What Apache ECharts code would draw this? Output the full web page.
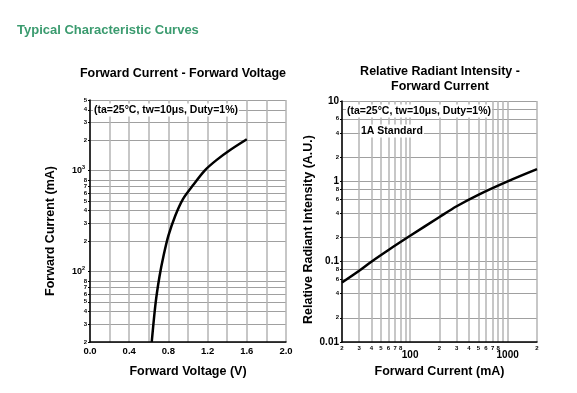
<!DOCTYPE html>
<html><head><meta charset="utf-8">
<script src="https://cdn.jsdelivr.net/npm/echarts@6/dist/echarts.min.js"></script>
<style>html,body{margin:0;padding:0;background:#fff}#c{width:577px;height:393px}</style>
</head><body><div id="c"></div>
<script>
// Forward Current vs Forward Voltage
const vfVoltage = [0.63, 0.67, 0.71, 0.75, 0.80, 0.87, 0.95, 1.05, 1.17, 1.29, 1.43, 1.6];
const vfCurrent = [20, 49, 90, 142, 226, 357, 525, 713, 1000, 1268, 1596, 2040];
// Relative Radiant Intensity vs Forward Current
const riCurrent = [20, 30, 40, 60, 100, 200, 300, 500, 1000, 2000];
const riIntensity = [0.055, 0.077, 0.1, 0.14, 0.21, 0.36, 0.49, 0.68, 1.0, 1.42];

const vfXTicks = [0, 0.2, 0.4, 0.6, 0.8, 1.0, 1.2, 1.4, 1.6, 1.8, 2.0];
const vfXLabels = [0, 0.4, 0.8, 1.2, 1.6, 2.0];
const vfYTicks = [20,30,40,50,60,70,80,90,100,200,300,400,500,600,700,800,900,1000,2000,3000,4000,5000];
const vfYLabels = [20,30,40,50,60,70,80,100,200,300,400,500,600,700,800,1000,2000,3000,4000,5000];
const riXTicks = [20,30,40,50,60,70,80,90,100,200,300,400,500,600,700,800,900,1000,2000];
const riXLabels = [20,30,40,50,60,70,80,100,200,300,400,500,600,700,800,1000,2000];
const riYTicks = [0.01,0.02,0.03,0.04,0.05,0.06,0.07,0.08,0.09,0.1,0.2,0.3,0.4,0.5,0.6,0.7,0.8,0.9,1,2,3,4,5,6,7,8,9,10];
const riYLabels = [0.01,0.02,0.04,0.06,0.08,0.1,0.2,0.4,0.6,0.8,1,2,4,6,8,10];

const FONT = '"Liberation Sans", Arial, sans-serif';
// keep edge values just inside the log extent so float rounding does not drop them
const inside = (arr, lo, hi) => arr.map(v => v >= hi ? hi * 0.99999 : (v <= lo ? lo * 1.00001 : v));
function lead(v){ const p = Math.floor(Math.log10(v) + 1e-6); return Math.round(v / Math.pow(10, p)); }
const near = (a, b) => Math.abs(a - b) / b < 1e-3;
const gridV = {show:true, lineStyle:{color:'#b4b4b4', width:1.5}};
const gridH = {show:true, lineStyle:{color:'#a0a0a0', width:1}};
const axLine = {show:true, lineStyle:{color:'#000', width:1.5}};
const nameStyle = {fontFamily:FONT, fontWeight:'bold', fontSize:12.5, color:'#000'};
const digit = {fontFamily:FONT, fontWeight:'bold', fontSize:6, color:'#000', lineHeight:6};

const chart = echarts.init(document.getElementById('c'), null, {renderer:'canvas'});
chart.setOption({
  animation:false,
  backgroundColor:'#fff',
  grid:[
    {left:90, top:100, width:196, height:242},
    {left:342, top:101, width:195, height:241}
  ],
  xAxis:[
    {type:'value', gridIndex:0, min:0, max:2,
     name:'Forward Voltage (V)', nameLocation:'middle', nameGap:23, nameTextStyle:nameStyle,
     axisLine:axLine, axisTick:{show:false, customValues:vfXTicks},
     axisLabel:{customValues:vfXLabels, showMinLabel:true, showMaxLabel:true, hideOverlap:false,
       formatter:v=>v.toFixed(1), fontFamily:FONT, fontWeight:'bold', fontSize:9.5, color:'#000', margin:4},
     splitLine:gridV},
    {type:'log', gridIndex:1, min:20, max:2000, logBase:10,
     name:'Forward Current (mA)', nameLocation:'middle', nameGap:23, nameTextStyle:nameStyle,
     axisLine:axLine, axisTick:{show:false, customValues:inside(riXTicks,20,2000)},
     axisLabel:{customValues:inside(riXLabels,20,2000), showMinLabel:true, showMaxLabel:true, hideOverlap:false, margin:3,
       formatter:v=> (near(v,100)||near(v,1000)) ? '{m|'+Math.round(v)+'}' : '{d|'+lead(v)+'}',
       rich:{d:digit, m:{fontFamily:FONT, fontWeight:'bold', fontSize:10, color:'#000', padding:[5,0,0,0]}}},
     splitLine:gridV}
  ],
  yAxis:[
    {type:'log', gridIndex:0, min:20, max:5000, logBase:10,
     name:'Forward Current (mA)', nameLocation:'middle', nameGap:33,
     nameTextStyle:Object.assign({padding:[0,20,0,0]}, nameStyle),
     axisLine:axLine, axisTick:{show:true, length:2, customValues:inside(vfYLabels,20,5000), lineStyle:{color:'#000'}},
     axisLabel:{customValues:inside(vfYLabels,20,5000), showMinLabel:true, showMaxLabel:true, hideOverlap:false, margin:3,
       formatter:v=> near(v,100) ? '{b|10}{s|2}' : near(v,1000) ? '{b|10}{s|3}' : '{d|'+lead(v)+'}',
       rich:{d:digit, b:{fontFamily:FONT, fontWeight:'bold', fontSize:9, color:'#000'}, s:{fontFamily:FONT, fontWeight:'bold', fontSize:5.5, color:'#000', padding:[0,2,6,0]}}},
     splitLine:gridH},
    {type:'log', gridIndex:1, min:0.01, max:10, logBase:10,
     name:'Relative Radiant Intensity (A.U.)', nameLocation:'middle', nameGap:27,
     nameTextStyle:Object.assign({padding:[0,16,0,0]}, nameStyle),
     axisLine:axLine, axisTick:{show:true, length:2, customValues:inside(riYLabels,0.01,10), lineStyle:{color:'#000'}},
     axisLabel:{customValues:inside(riYLabels,0.01,10), showMinLabel:true, showMaxLabel:true, hideOverlap:false, margin:3,
       formatter:v=> near(v,10) ? '{t|10}' : near(v,1) ? '{b|1}' : near(v,0.1) ? '{b|0.1}' : near(v,0.01) ? '{b|0.01}' : '{d|'+lead(v)+'}',
       rich:{d:digit, b:{fontFamily:FONT, fontWeight:'bold', fontSize:10, color:'#000'},
             t:{fontFamily:FONT, fontWeight:'bold', fontSize:10, color:'#000', lineHeight:6}}},
     splitLine:gridH}
  ],
  series:[
    {type:'line', xAxisIndex:0, yAxisIndex:0, showSymbol:false, smooth:0.3,
     lineStyle:{color:'#000', width:2.5}, z:5,
     data:vfVoltage.map((v,i)=>[v, vfCurrent[i]])},
    {type:'line', xAxisIndex:1, yAxisIndex:1, showSymbol:false, smooth:0.3,
     lineStyle:{color:'#000', width:2.5}, z:5,
     data:riCurrent.map((v,i)=>[v, riIntensity[i]])}
  ],
  graphic:[
    {type:'text', left:17, top:24, style:{text:'Typical Characteristic Curves', font:'bold 13px '+FONT, fill:'#3b9b6f'}},
    {type:'text', x:183, y:74, style:{text:'Forward Current - Forward Voltage', font:'bold 12.5px '+FONT, fill:'#000', align:'center', verticalAlign:'middle'}},
    {type:'text', x:440, y:72, style:{text:'Relative Radiant Intensity -', font:'bold 12.5px '+FONT, fill:'#000', align:'center', verticalAlign:'middle'}},
    {type:'text', x:440, y:87, style:{text:'Forward Current', font:'bold 12.5px '+FONT, fill:'#000', align:'center', verticalAlign:'middle'}},
    {type:'text', x:93, y:110, z:10, style:{text:'(ta=25°C, tw=10μs, Duty=1%)', font:'bold 10.5px '+FONT, fill:'#000', verticalAlign:'middle', backgroundColor:'#fff', padding:[1,1,1,1]}},
    {type:'text', x:346, y:111, z:10, style:{text:'(ta=25°C, tw=10μs, Duty=1%)', font:'bold 10.5px '+FONT, fill:'#000', verticalAlign:'middle', backgroundColor:'#fff', padding:[1,1,1,1]}},
    {type:'text', x:360, y:131, z:10, style:{text:'1A Standard', font:'bold 10.5px '+FONT, fill:'#000', verticalAlign:'middle', backgroundColor:'#fff', padding:[1,1,1,1]}}
  ]
});
</script></body></html>
